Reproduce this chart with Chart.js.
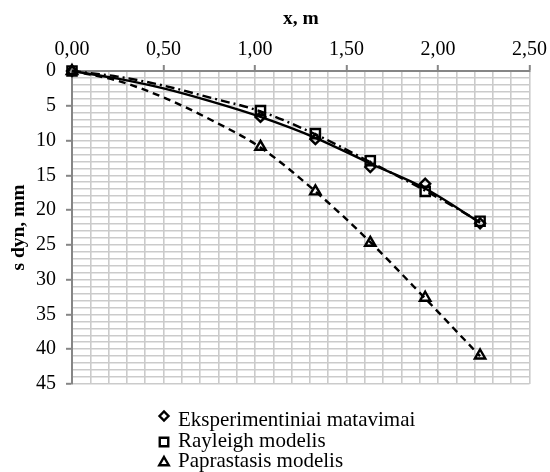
<!DOCTYPE html>
<html>
<head>
<meta charset="utf-8">
<script src="https://cdn.jsdelivr.net/npm/chart.js@4/dist/chart.umd.min.js"></script>
<style>
  html, body { margin: 0; padding: 0; background: #ffffff; }
  #wrap { width: 550px; height: 472px; }
</style>
</head>
<body>
<div id="wrap"><canvas id="c" width="550" height="472"></canvas></div>
<script>
// Measurement positions along the beam, m
const xPoints = [0, 1.03, 1.33, 1.63, 1.93, 2.23];
// Measured and modelled dynamic deflection, mm
const eksperimentiniai = [0, 6.6, 9.8, 13.8, 16.2, 21.9];
const rayleigh = [0, 5.7, 9.0, 12.9, 17.3, 21.6];
const paprastasis = [0, 10.9, 17.3, 24.7, 32.6, 40.9];

// Smoothed curves for each series
const curveX = [0, 0.25, 0.5, 0.75, 1.03, 1.33, 1.63, 1.93, 2.23];
const curveEksperimentiniai = [0, 1.1, 2.5, 4.3, 6.6, 9.6, 13.3, 16.9, 21.8];
const curveRayleigh = [0, 0.8, 2.1, 3.8, 5.8, 9.1, 13.1, 17.2, 21.7];
const curvePaprastasis = [0, 1.4, 3.8, 6.9, 11.0, 17.3, 24.6, 32.7, 41.0];

const seriesNames = ['Eksperimentiniai matavimai', 'Rayleigh modelis', 'Paprastasis modelis'];

const xAxisTitle = 'x, m';
const yAxisTitle = 's dyn, mm';

const FONT = '"Liberation Serif", "Times New Roman", serif';
const AXIS_GREY = '#868686';
const GRID_GREY = '#cbcbcb';

function toPoints(xs, ys) {
  return xs.map((x, i) => ({ x: x, y: ys[i] }));
}

function markerSet(label, ys, style, radius) {
  return {
    label: label,
    data: toPoints(xPoints, ys),
    showLine: false,
    clip: false,
    pointStyle: style,
    pointRadius: radius,
    pointHoverRadius: radius,
    pointBorderWidth: 2.4,
    pointBorderColor: '#000000',
    pointBackgroundColor: 'rgba(255,255,255,0)'
  };
}

function curveSet(label, ys, dash) {
  return {
    label: label,
    data: toPoints(curveX, ys),
    showLine: true,
    clip: false,
    pointRadius: 0,
    pointHoverRadius: 0,
    borderColor: '#000000',
    borderWidth: 2.4,
    borderDash: dash,
    cubicInterpolationMode: 'monotone',
    fill: false
  };
}

const datasets = [
  markerSet(seriesNames[0], eksperimentiniai, 'rectRot', 5),
  markerSet(seriesNames[1], rayleigh, 'rect', 6.5),
  markerSet(seriesNames[2], paprastasis, 'triangle', 6),
  curveSet(seriesNames[0] + ' (kreivė)', curveEksperimentiniai, []),
  curveSet(seriesNames[1] + ' (kreivė)', curveRayleigh, [9, 4, 2, 4]),
  curveSet(seriesNames[2] + ' (kreivė)', curvePaprastasis, [7, 5])
];

function isMajorX(v) {
  const t = Math.round(v * 100);
  return t % 50 === 0;
}
function isMajorY(v) {
  return Math.round(v) % 5 === 0;
}

// Legend listing the marker series, one per row below the plot
const stackedLegend = {
  id: 'stackedLegend',
  afterDraw(chart) {
    const ctx = chart.ctx;
    const rows = [
      { ds: 0, mx: 164, my: 416, ty: 426 },
      { ds: 1, mx: 164, my: 442, ty: 446.5 },
      { ds: 2, mx: 164, my: 462.5, ty: 467 }
    ];
    ctx.save();
    rows.forEach(r => {
      const d = chart.data.datasets[r.ds];
      const legendRadius = d.pointStyle === 'rect' ? 6 : (d.pointStyle === 'triangle' ? 5.5 : 4.5);
      ctx.fillStyle = 'rgba(255,255,255,0)';
      ctx.strokeStyle = '#000000';
      ctx.lineWidth = 2.4;
      Chart.helpers.drawPoint(ctx, {
        pointStyle: d.pointStyle,
        radius: legendRadius,
        borderWidth: 2.4,
        rotation: 0
      }, r.mx, r.my);
      ctx.fillStyle = '#000000';
      ctx.font = '21px ' + FONT;
      ctx.textAlign = 'left';
      ctx.textBaseline = 'alphabetic';
      ctx.fillText(d.label, 178, r.ty);
    });
    ctx.restore();
  }
};

new Chart(document.getElementById('c'), {
  type: 'scatter',
  data: { datasets: datasets },
  plugins: [stackedLegend],
  options: {
    responsive: false,
    animation: false,
    layout: { padding: { top: 0, left: 0, right: 19, bottom: 88 } },
    plugins: {
      legend: { display: false },
      tooltip: { enabled: false }
    },
    scales: {
      x: {
        type: 'linear',
        position: 'top',
        min: 0,
        max: 2.5,
        afterFit(scale) { scale.height = 71; },
        border: { display: true, color: AXIS_GREY, width: 2 },
        grid: {
          color: GRID_GREY,
          lineWidth: 1.6,
          drawTicks: true,
          tickLength: 6,
          tickWidth: 2,
          tickColor: c => (c.tick && isMajorX(c.tick.value)) ? AXIS_GREY : 'rgba(0,0,0,0)'
        },
        ticks: {
          stepSize: 0.1,
          autoSkip: false,
          maxRotation: 0,
          minRotation: 0,
          padding: 3,
          color: '#000000',
          font: { family: FONT, size: 20 },
          callback: v => isMajorX(v) ? (Math.round(v * 100) / 100).toFixed(2).replace('.', ',') : ''
        },
        title: {
          display: true,
          text: xAxisTitle,
          color: '#000000',
          font: { family: FONT, size: 19.5, weight: 'bold' },
          padding: { top: 7, bottom: 0 }
        }
      },
      y: {
        type: 'linear',
        position: 'left',
        reverse: true,
        min: 0,
        max: 45,
        afterFit(scale) { scale.width = 72; },
        border: { display: true, color: AXIS_GREY, width: 2 },
        grid: {
          color: GRID_GREY,
          lineWidth: 1.6,
          drawTicks: true,
          tickLength: 6,
          tickWidth: 2,
          tickColor: c => (c.tick && isMajorY(c.tick.value)) ? AXIS_GREY : 'rgba(0,0,0,0)'
        },
        ticks: {
          stepSize: 1,
          autoSkip: false,
          padding: 10,
          color: '#000000',
          font: { family: FONT, size: 20 },
          callback: v => isMajorY(v) ? String(Math.round(v)) : ''
        },
        title: {
          display: true,
          text: yAxisTitle,
          color: '#000000',
          font: { family: FONT, size: 19.5, weight: 'bold' },
          padding: { top: 7, bottom: 0 }
        }
      }
    }
  }
});
</script>
</body>
</html>
